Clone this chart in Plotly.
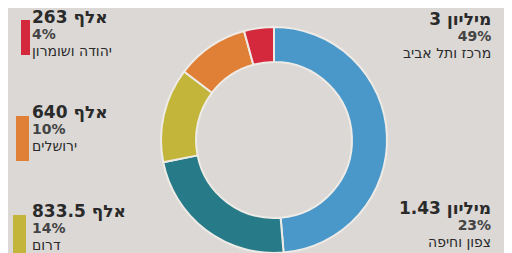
import plotly.graph_objects as go

# Data
regions = ["מרכז ותל אביב", "צפון וחיפה", "דרום", "ירושלים", "יהודה ושומרון"]
values = [3000000, 1430000, 833500, 640000, 263000]
amount_num = ["3", "1.43", "833.5", "640", "263"]
amount_unit = ["מיליון", "מיליון", "אלף", "אלף", "אלף"]
pct_labels = ["49%", "23%", "14%", "10%", "4%"]
colors = ["#4a98c9", "#277a87", "#c2b53a", "#e07f36", "#d4283c"]

W, H = 512, 253
BG = "#dbd8d5"

fig = go.Figure()
fig.add_trace(go.Pie(
    labels=regions, values=values, hole=0.69, sort=False,
    direction="clockwise", rotation=0, textinfo="none", hoverinfo="label+percent",
    marker=dict(colors=colors, line=dict(color="#eeebe6", width=2)),
    domain=dict(x=[(266 - 114) / W, (266 + 114) / W], y=[(253 - 245) / H, (253 - 19) / H]),
    showlegend=False,
))

# label groups: (index, side, text x px, middle line y px, bar rect px)
groups = [
    (0, "right", 485, 27, (497, 13, 512, 52)),
    (1, "right", 485, 216, (506, 197, 512, 253)),
    (2, "left", 22, 219, (5, 207, 18, 253)),
    (3, "left", 22, 120, (8, 108, 21, 153)),
    (4, "left", 22, 25, (13, 12, 22, 47)),
]

ann = []
shapes = []
for i, side, tx, ym, bar in groups:
    # SVG text runs left-to-right: word on the left, number on the right (as printed)
    first = amount_unit[i] + " " + amount_num[i]
    text = (
        '<span style="font-size:17px"><b>' + first + "</b></span><br>"
        + '<span style="font-size:14px;color:#444"><b>' + pct_labels[i] + "</b></span><br>"
        + '<span style="font-size:14px">' + regions[i] + "</span>"
    )
    ann.append(dict(
        x=tx / W, y=1 - ym / H, xref="paper", yref="paper",
        xanchor=side, yanchor="middle", align=side, showarrow=False,
        text=text, font=dict(family="DejaVu Sans", size=12.5, color="#2a2a2a"),
    ))
    x0, y0, x1, y1 = bar
    shapes.append(dict(
        type="rect", xref="paper", yref="paper",
        x0=x0 / W, x1=x1 / W, y0=1 - y1 / H, y1=1 - y0 / H,
        fillcolor=colors[i], line=dict(width=0), layer="above",
    ))

fig.update_layout(
    width=W, height=H, margin=dict(l=0, r=0, t=0, b=0),
    paper_bgcolor=BG, plot_bgcolor=BG,
    annotations=ann, shapes=shapes,
)

fig.write_html("out.html")
